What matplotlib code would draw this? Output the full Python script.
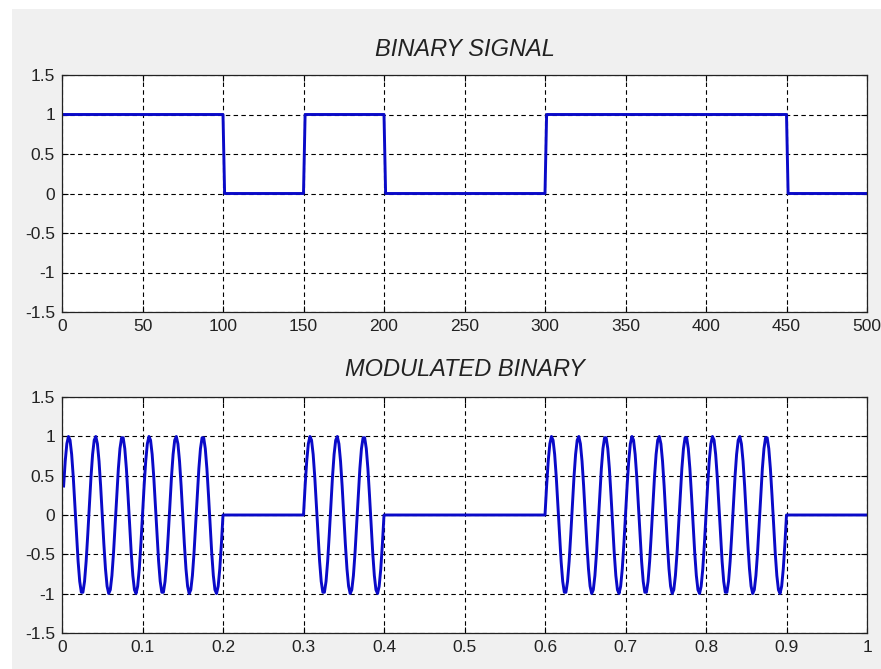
import matplotlib
matplotlib.use("Agg")
import matplotlib.pyplot as plt
import numpy as np

# bits, 50 samples each
bits = [1, 1, 0, 1, 0, 0, 1, 1, 1, 0]
samples_per_bit = 50
carrier_hz = 30          # ~30 cycles per second in the lower panel
dt = 0.002               # 500 samples over one second

top_xticks = [0, 50, 100, 150, 200, 250, 300, 350, 400, 450, 500]
bottom_xticks = [0, 0.1, 0.2, 0.3, 0.4, 0.5, 0.6, 0.7, 0.8, 0.9, 1]
bottom_xlabels = ["0", "0.1", "0.2", "0.3", "0.4", "0.5", "0.6", "0.7", "0.8", "0.9", "1"]
yticks = [-1.5, -1, -0.5, 0, 0.5, 1, 1.5]
ylabels = ["-1.5", "-1", "-0.5", "0", "0.5", "1", "1.5"]

binary = np.repeat(bits, samples_per_bit)
n = np.arange(1, len(binary) + 1)
t = n * dt
modulated = binary * np.sin(2 * np.pi * carrier_hz * t)

plt.rcParams['font.family'] = ['Liberation Sans', 'DejaVu Sans']
W, H = 881, 669
fig = plt.figure(figsize=(W / 100, H / 100), dpi=100, facecolor='white')
fig.patches.append(plt.Rectangle((12 / W, 0), 1, 1 - 9 / H, transform=fig.transFigure,
                                 facecolor='#f0f0f0', edgecolor='none', zorder=-10))

ax1 = fig.add_axes([62 / W, 1 - 312 / H, 805 / W, 237 / H])
ax2 = fig.add_axes([62 / W, 1 - 633 / H, 805 / W, 236 / H])

line_color = '#0a0ac8'
ax1.plot(n, binary, color=line_color, lw=2.1)
ax2.plot(t, modulated, color=line_color, lw=2.1)

ax1.set_xlim(0, 500)
ax1.set_xticks(top_xticks)
ax1.set_xticklabels([str(v) for v in top_xticks])
ax2.set_xlim(0, 1)
ax2.set_xticks(bottom_xticks)
ax2.set_xticklabels(bottom_xlabels)

for ax in (ax1, ax2):
    ax.set_ylim(-1.5, 1.5)
    ax.set_yticks(yticks)
    ax.set_yticklabels(ylabels)
    ax.set_facecolor('white')
    ax.grid(True, color='black', lw=0.8, ls=(0, (4, 3)))
    ax.set_axisbelow(True)
    ax.tick_params(direction='in', length=4, width=0.8, top=True, right=True,
                   labelsize=12.5, labelcolor='#222222', pad=5)
    for s in ax.spines.values():
        s.set_linewidth(0.9)
        s.set_color('#222222')

ax1.set_title("BINARY SIGNAL", fontsize=17, style='italic', color='#222222', pad=14)
ax2.set_title("MODULATED BINARY", fontsize=17, style='italic', color='#222222', pad=15)

fig.savefig("out.png", dpi=100, facecolor=fig.get_facecolor())
